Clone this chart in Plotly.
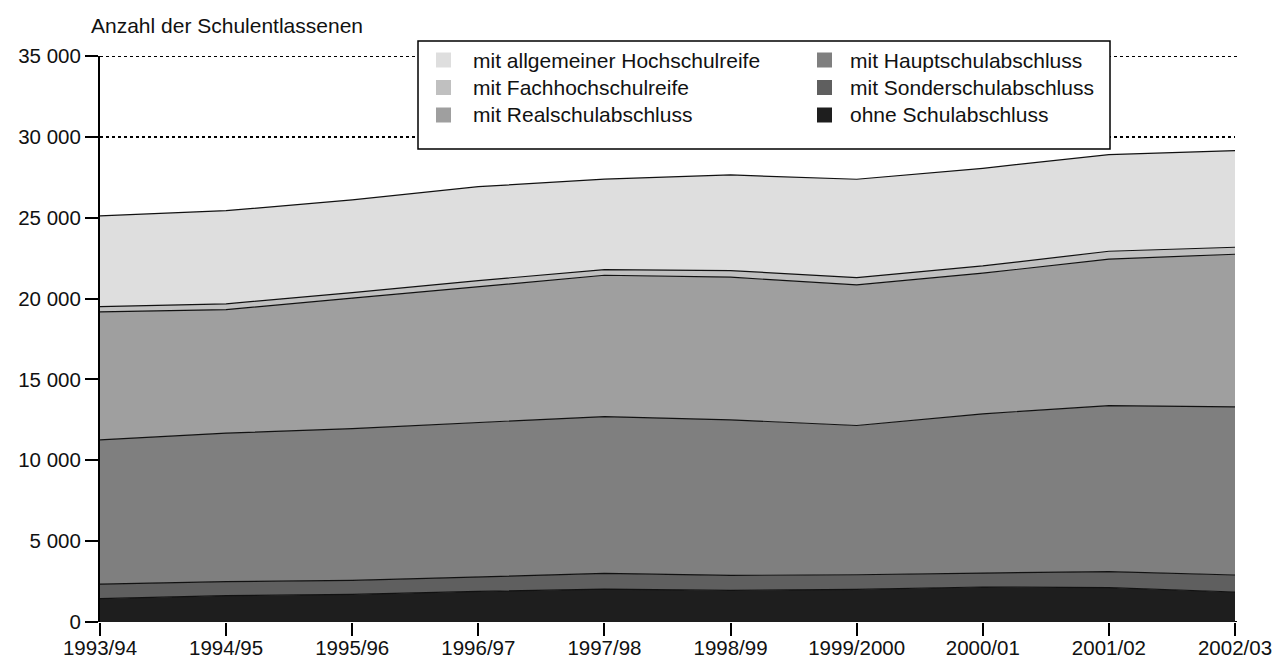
import plotly.graph_objects as go

# ---- data ----
years = ["1993/94", "1994/95", "1995/96", "1996/97", "1997/98",
         "1998/99", "1999/2000", "2000/01", "2001/02", "2002/03"]
ohne_abschluss = [1440, 1625, 1706, 1891, 2027, 1953, 2015, 2163, 2120, 1854]
sonderschule = [908, 866, 865, 909, 976, 927, 908, 865, 998, 1051]
hauptschule = [8918, 9189, 9393, 9535, 9703, 9622, 9227, 9845, 10268, 10401]
realschule = [7911, 7639, 8059, 8405, 8736, 8819, 8695, 8695, 9056, 9436]
fachhochschulreife = [327, 352, 346, 371, 351, 408, 451, 451, 483, 433]
hochschulreife = [5605, 5766, 5729, 5809, 5593, 5914, 6081, 6038, 5975, 5970]

series_names = ["ohne Schulabschluss", "mit Sonderschulabschluss", "mit Hauptschulabschluss",
                "mit Realschulabschluss", "mit Fachhochschulreife", "mit allgemeiner Hochschulreife"]
series_values = [ohne_abschluss, sonderschule, hauptschule, realschule, fachhochschulreife, hochschulreife]
series_colors = ["#1e1e1e", "#5f5f5f", "#7f7f7f", "#9f9f9f", "#c0c0c0", "#dedede"]

y_tickvals = [0, 5000, 10000, 15000, 20000, 25000, 30000, 35000]
y_ticktext = ["0", "5 000", "10 000", "15 000", "20 000", "25 000", "30 000", "35 000"]

title_text = "Anzahl der Schulentlassenen"

# legend layout: (column, row) for each series
legend_slots = {
    "mit allgemeiner Hochschulreife": (0, 0),
    "mit Fachhochschulreife": (0, 1),
    "mit Realschulabschluss": (0, 2),
    "mit Hauptschulabschluss": (1, 0),
    "mit Sonderschulabschluss": (1, 1),
    "ohne Schulabschluss": (1, 2),
}

FONT = "Liberation Sans, Arial, Helvetica, sans-serif"
W, H = 1275, 659
ML, MR, MT, MB = 100, 40, 56, 37
PW = W - ML - MR
PH = H - MT - MB


def px_x(px):
    return (px - ML) / PW


def px_y(py):
    return (H - MB - py) / PH


fig = go.Figure()
for name, vals, col in zip(series_names, series_values, series_colors):
    fig.add_trace(go.Scatter(
        x=years, y=vals, name=name, mode="lines",
        stackgroup="one",
        line=dict(color="#111111", width=1.2),
        fillcolor=col,
        showlegend=False,
    ))

shapes = []
annotations = []

# dotted gridlines at the range ends (plotly drops them at the edges)
for yv in (y_tickvals[0], y_tickvals[-1]):
    shapes.append(dict(type="line", xref="paper", yref="y", x0=0, x1=px_x(1238),
                       y0=yv, y1=yv, line=dict(color="black", width=2, dash="dot"),
                       layer="below"))

# legend box
shapes.append(dict(type="rect", xref="paper", yref="paper",
                   x0=px_x(418), x1=px_x(1110), y0=px_y(149), y1=px_y(41),
                   line=dict(color="black", width=1.5), fillcolor="white", layer="above"))

col_sw_x = [436, 817]
col_tx_x = [471, 848]
row_y = [60, 87.5, 115]
sw = 15
for name, col in zip(series_names, series_colors):
    c, r = legend_slots[name]
    cy = row_y[r]
    shapes.append(dict(type="rect", xref="paper", yref="paper",
                       x0=px_x(col_sw_x[c]), x1=px_x(col_sw_x[c] + sw),
                       y0=px_y(cy + sw / 2), y1=px_y(cy - sw / 2),
                       line=dict(width=0), fillcolor=col, layer="above"))
    annotations.append(dict(xref="paper", yref="paper", x=px_x(col_tx_x[c]), y=px_y(cy),
                            xanchor="left", yanchor="middle", showarrow=False, text=name,
                            font=dict(family=FONT, size=21, color="#111111")))

annotations.append(dict(xref="paper", yref="paper", x=px_x(89), y=px_y(25),
                        xanchor="left", yanchor="middle", showarrow=False, text=title_text,
                        font=dict(family=FONT, size=21, color="#111111")))

fig.update_layout(
    width=W, height=H, autosize=False,
    margin=dict(l=ML, r=MR, t=MT, b=MB, pad=0),
    paper_bgcolor="white", plot_bgcolor="white",
    font=dict(family=FONT, size=20.5, color="#111111"),
    showlegend=False,
    shapes=shapes, annotations=annotations,
    hovermode=False,
)
fig.update_xaxes(
    type="category", range=[0, len(years) - 1],
    showgrid=False, zeroline=False, showline=False,
    ticks="outside", ticklen=13, tickwidth=2, tickcolor="black",
    ticklabelstandoff=-6,
    tickfont=dict(family=FONT, size=20.5, color="#111111"),
    automargin=False, fixedrange=True,
)
fig.update_yaxes(
    range=[0, 35000], tickvals=y_tickvals, ticktext=y_ticktext,
    showgrid=True, gridcolor="black", gridwidth=2, griddash="dot",
    zeroline=False, showline=True, linecolor="black", linewidth=2,
    ticks="outside", ticklen=13, tickwidth=2, tickcolor="black",
    tickfont=dict(family=FONT, size=20.5, color="#111111"),
    automargin=False, fixedrange=True,
)

fig.write_html("out.html", config={"displayModeBar": False},
               post_script="document.body.style.margin='0';document.body.style.overflow='hidden';")
